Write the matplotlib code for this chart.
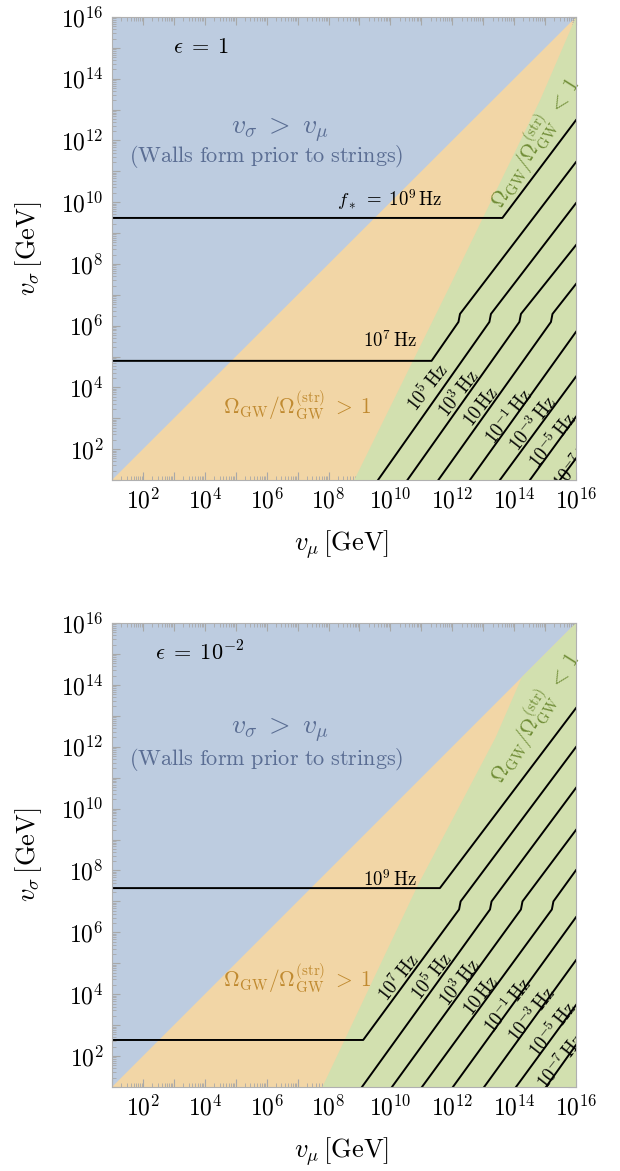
import numpy as np
import matplotlib.pyplot as plt
from matplotlib.ticker import LogLocator, FuncFormatter, NullFormatter

plt.rcParams['mathtext.fontset'] = 'cm'
plt.rcParams['font.family'] = 'DejaVu Serif'

# log10 range of both axes (GeV)
lim = [1, 16]

# Omega_GW / Omega_GW^(str) = 1 boundary, (log10 v_mu, log10 v_sigma)
bound_eps1 = [(8.83, 1), (11.93, 7.3), (14.84, 13.31), (16, 16)]
bound_eps2 = [(7.8, 1), (10.9, 7.55), (13.4, 12.3), (14.25, 14.25)]

# f_* contours, (log10 v_mu, log10 v_sigma) vertices
freq_eps1 = {
    '9': [(1, 9.49), (13.62, 9.49), (16, 12.66)],
    '7': [(1, 4.86), (11.33, 4.86), (12.2, 6.12), (12.25, 6.38), (16, 11.3)],
    '5': [(9.6, 1), (13.2, 6.12), (13.25, 6.38), (16, 9.97)],
    '3': [(10.55, 1), (14.17, 6.12), (14.22, 6.38), (16, 8.61)],
    '1': [(11.55, 1), (15.19, 6.12), (15.24, 6.38), (16, 7.35)],
    '-1': [(12.57, 1), (16, 5.8)],
    '-3': [(13.54, 1), (16, 4.35)],
    '-5': [(14.51, 1), (16, 3.05)],
    '-7': [(15.48, 1), (16, 1.7)],
}
freq_eps2 = {
    '9': [(1, 7.43), (11.6, 7.43), (16, 13.25)],
    '7': [(1, 2.52), (9.12, 2.52), (12.22, 6.74), (12.27, 7.0), (16, 11.99)],
    '5': [(9.08, 1), (13.22, 6.74), (13.27, 7.0), (16, 10.67)],
    '3': [(10.05, 1), (14.22, 6.74), (14.27, 7.0), (16, 9.31)],
    '1': [(11.02, 1), (15.22, 6.74), (15.27, 7.0), (16, 8.01)],
    '-1': [(12.02, 1), (16, 6.49)],
    '-3': [(13.03, 1), (16, 5.10)],
    '-5': [(14.06, 1), (16, 3.65)],
    '-7': [(15.03, 1), (16, 2.36)],
}

freq_labels = {
    '9': r'$10^{9}\,\mathrm{Hz}$', '7': r'$10^{7}\,\mathrm{Hz}$',
    '5': r'$10^{5}\,\mathrm{Hz}$', '3': r'$10^{3}\,\mathrm{Hz}$',
    '1': r'$10\,\mathrm{Hz}$', '-1': r'$10^{-1}\,\mathrm{Hz}$',
    '-3': r'$10^{-3}\,\mathrm{Hz}$', '-5': r'$10^{-5}\,\mathrm{Hz}$',
    '-7': r'$10^{-7}\,\mathrm{Hz}$',
}

# label positions in axes fraction
lab_pos_eps1 = {
    '7': (0.599, 0.302), '5': (0.681, 0.199), '3': (0.748, 0.186),
    '1': (0.795, 0.158), '-1': (0.856, 0.138), '-3': (0.907, 0.121),
    '-5': (0.950, 0.086), '-7': (1.003, 0.040),
}
lab_pos_eps2 = {
    '9': (0.599, 0.448), '7': (0.619, 0.235), '5': (0.690, 0.237),
    '3': (0.750, 0.224), '1': (0.797, 0.196), '-1': (0.853, 0.175),
    '-3': (0.905, 0.155), '-5': (0.950, 0.123), '-7': (0.968, 0.054),
}

c_blue = '#bdcce0'
c_orange = '#f2d6a6'
c_green = '#d2e0af'
t_blue = '#5a6d93'
t_orange = '#c08a30'
t_green = '#6f8c35'

fig = plt.figure(figsize=(6.2, 11.71), dpi=100)
ax1 = fig.add_axes([112/620, 1-480/1171, 464/620, 463/1171])
ax2 = fig.add_axes([112/620, 1-1087/1171, 464/620, 464/1171])


def tick_fmt(v, pos):
    e = int(round(np.log10(v)))
    if e % 2 == 0 and e >= 2:
        return r'$10^{%d}$' % e
    return ''


def draw_panel(ax, bound, freqs, lab_pos, eps_text, star_label, fy_top):
    ax.set_xscale('log')
    ax.set_yscale('log')
    ax.set_xlim(10.0**lim[0], 10.0**lim[1])
    ax.set_ylim(10.0**lim[0], 10.0**lim[1])
    ax.set_facecolor(c_blue)

    # v_sigma < v_mu triangle
    tri = np.array([(lim[0], lim[0]), (lim[1], lim[1]), (lim[1], lim[0])])
    ax.fill(10**tri[:, 0], 10**tri[:, 1], color=c_orange, lw=0, zorder=1)
    b = np.array(bound + [(lim[1], lim[1]), (lim[1], lim[0])])
    ax.fill(10**b[:, 0], 10**b[:, 1], color=c_green, lw=0, zorder=2)

    for k, pts in freqs.items():
        p = np.array(pts)
        ax.plot(10**p[:, 0], 10**p[:, 1], color='black', lw=1.4, zorder=3,
                solid_joinstyle='round')

    fs_f = 13.5
    for k, (fx, fy) in lab_pos.items():
        horiz = (k == '9' and star_label is None) or (k == '7' and star_label is not None)
        if horiz:
            ax.text(fx, fy, freq_labels[k], transform=ax.transAxes, fontsize=fs_f,
                    ha='center', va='center', zorder=4)
        else:
            ax.text(fx, fy, freq_labels[k], transform=ax.transAxes, fontsize=fs_f,
                    ha='center', va='center', rotation=52, rotation_mode='anchor',
                    zorder=4, clip_on=True)
    if star_label is not None:
        ax.text(0.599, 0.605, star_label, transform=ax.transAxes, fontsize=fs_f,
                ha='center', va='center', zorder=4)

    ax.text(eps_text[1], 0.935, eps_text[0], transform=ax.transAxes,
            fontsize=16, ha='left', va='center')
    ax.text(0.362, fy_top[0], r'$v_\sigma\;>\;v_\mu$', transform=ax.transAxes,
            fontsize=20, ha='center', va='center', color=t_blue)
    ax.text(0.332, fy_top[1], r'$\mathrm{(Walls\ form\ prior\ to\ strings)}$',
            transform=ax.transAxes, fontsize=16, ha='center', va='center',
            color=t_blue)
    ax.text(0.399, fy_top[2], r'$\Omega_{\rm GW}/\Omega_{\rm GW}^{(\rm str)}\;>\;1$',
            transform=ax.transAxes, fontsize=15.5, ha='center', va='center',
            color=t_orange, zorder=4)
    ax.text(0.91, fy_top[3], r'$\Omega_{\rm GW}/\Omega_{\rm GW}^{(\rm str)}\;<\;1$',
            transform=ax.transAxes, fontsize=15.5, ha='center', va='center',
            color=t_green, rotation=58, rotation_mode='anchor', zorder=4)

    ax.text(0.495, -0.14, r'$v_\mu\,[\mathrm{GeV}]$', transform=ax.transAxes,
            fontsize=19, ha='center', va='center')
    ax.text(-0.179, 0.5, r'$v_\sigma\,[\mathrm{GeV}]$', transform=ax.transAxes,
            fontsize=19, ha='center', va='center', rotation=90)

    for axis in (ax.xaxis, ax.yaxis):
        axis.set_major_locator(LogLocator(base=10, numticks=100))
        axis.set_minor_locator(LogLocator(base=10, subs=np.arange(2, 10), numticks=200))
        axis.set_major_formatter(FuncFormatter(tick_fmt))
        axis.set_minor_formatter(NullFormatter())
    ax.tick_params(which='both', direction='in', color='#a8a8a8', top=True, right=True)
    ax.tick_params(which='major', length=6, width=0.8, labelsize=17, pad=6)
    ax.tick_params(which='minor', length=3, width=0.6)
    for s in ax.spines.values():
        s.set_color('#b0b0b0')
        s.set_linewidth(0.8)
        s.set_zorder(5)


draw_panel(ax1, bound_eps1, freq_eps1, lab_pos_eps1, (r'$\epsilon\;=\;1$', 0.131),
           r'$f_*\;=\;10^{9}\,\mathrm{Hz}$', (0.756, 0.698, 0.162, 0.730))
draw_panel(ax2, bound_eps2, freq_eps2, lab_pos_eps2, (r'$\epsilon\;=\;10^{-2}$', 0.093),
           None, (0.769, 0.705, 0.235, 0.797))

fig.savefig('out.png', dpi=100)
